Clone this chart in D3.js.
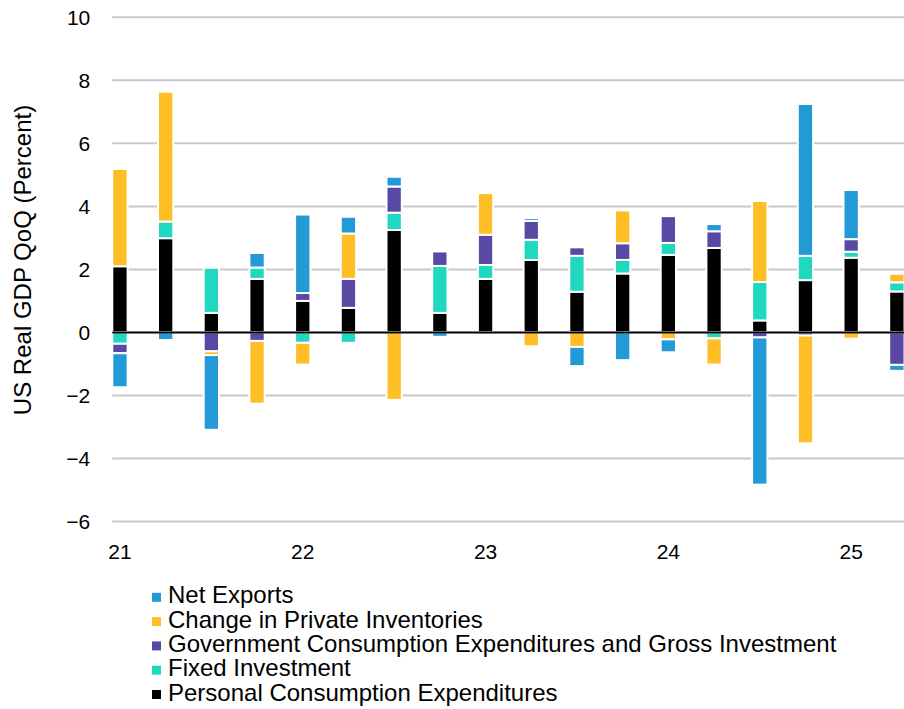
<!DOCTYPE html>
<html>
<head>
<meta charset="utf-8">
<script src="https://cdn.jsdelivr.net/npm/d3@7"></script>
<style>
  html, body { margin: 0; padding: 0; background: #ffffff; }
  svg { display: block; }
  text { font-family: "Liberation Sans", Arial, sans-serif; fill: #000; }
</style>
</head>
<body>
<div id="chart"></div>
<script>
// ---- data ----
const quarters = ["2021Q1","2021Q2","2021Q3","2021Q4","2022Q1","2022Q2","2022Q3","2022Q4",
                  "2023Q1","2023Q2","2023Q3","2023Q4","2024Q1","2024Q2","2024Q3","2024Q4",
                  "2025Q1","2025Q2"];
const personalConsumption = [2.10, 2.99, 0.62, 1.70, 1.00, 0.78, 3.25, 0.62, 1.70, 2.30, 1.29, 1.87, 2.46, 2.68, 0.38, 1.66, 2.37, 1.30];
const fixedInvestment     = [-0.36, 0.53, 1.43, 0.36, -0.33, -0.33, 0.55, 1.49, 0.44, 0.64, 1.14, 0.43, 0.38, -0.19, 1.22, 0.77, 0.19, 0.29];
const government          = [-0.30, 0.00, -0.60, -0.27, 0.25, 0.92, 0.83, 0.46, 0.96, 0.60, 0.27, 0.53, 0.85, 0.53, -0.16, -0.10, 0.40, -1.03];
const inventories         = [3.09, 4.12, -0.12, -1.99, -0.69, 1.44, -2.14, 0.00, 1.32, -0.44, -0.46, 1.04, -0.22, -0.83, 2.57, -3.42, -0.20, 0.27];
const netExports          = [-1.08, -0.24, -2.37, 0.46, 2.49, 0.53, 0.31, -0.14, -0.07, 0.09, -0.61, -0.88, -0.41, 0.23, -4.67, 4.82, 1.56, -0.19];

const seriesNames  = ["Net Exports", "Change in Private Inventories",
                      "Government Consumption Expenditures and Gross Investment",
                      "Fixed Investment", "Personal Consumption Expenditures"];
const seriesColors = ["#219ad6", "#ffbd26", "#5949a5", "#20d8c0", "#000000"];

const yTicks      = [10, 8, 6, 4, 2, 0, -2, -4, -6];
const yTickLabels = ["10", "8", "6", "4", "2", "0", "\u22122", "\u22124", "\u22126"];
const xTickQuarters = ["2021Q1", "2022Q1", "2023Q1", "2024Q1", "2025Q1"];
const xTickLabels   = ["21", "22", "23", "24", "25"];
const yTitle = "US Real GDP QoQ (Percent)";

// ---- build table ----
const keys = ["pce", "fi", "gov", "inv", "nx"]; // stacking order from zero outward
const keyIndex = { nx: 0, inv: 1, gov: 2, fi: 3, pce: 4 }; // index into names/colors
const table = quarters.map((q, i) => ({
  q: q,
  pce: personalConsumption[i],
  fi: fixedInvestment[i],
  gov: government[i],
  inv: inventories[i],
  nx: netExports[i]
}));

// ---- layout ----
const W = 904, H = 709;
const svg = d3.select("#chart").append("svg").attr("width", W).attr("height", H);

const plotLeft = 112.3, plotRight = 904;
const step = 45.7, pIn = 0.665;
const x = d3.scaleBand()
  .domain(quarters)
  .range([plotLeft, plotLeft + step * (quarters.length - pIn)])
  .paddingInner(pIn)
  .paddingOuter(0);

const y = d3.scaleLinear().domain([-6, 10]).range([521.5, 17.3]);

// gridlines
svg.append("g").selectAll("line")
  .data(yTicks.filter(v => v !== 0))
  .join("line")
  .attr("x1", plotLeft).attr("x2", plotRight)
  .attr("y1", d => y(d)).attr("y2", d => y(d))
  .attr("stroke", "#c8c8c8").attr("stroke-width", 2);

// y axis labels
const yAxis = d3.axisLeft(y)
  .tickValues(yTicks)
  .tickFormat((d) => yTickLabels[yTicks.indexOf(d)])
  .tickSize(0)
  .tickPadding(22);
const gy = svg.append("g").attr("transform", `translate(${plotLeft},0)`).call(yAxis);
gy.select(".domain").remove();
gy.selectAll("text").style("font-size", "21px").style("font-family", '"Liberation Sans", Arial, sans-serif').attr("fill", "#000");

// stacked bars
const stack = d3.stack().keys(keys).offset(d3.stackOffsetDiverging);
const stacked = stack(table);

svg.append("g").selectAll("g")
  .data(stacked)
  .join("g")
  .attr("fill", d => seriesColors[keyIndex[d.key]])
  .selectAll("rect")
  .data(d => d.filter(s => Math.abs(s[1] - s[0]) > 1e-9))
  .join("rect")
  .attr("x", d => x(d.data.q))
  .attr("width", x.bandwidth())
  .attr("y", d => y(Math.max(d[0], d[1])))
  .attr("height", d => Math.abs(y(d[0]) - y(d[1])))
  .attr("stroke", "#ffffff")
  .attr("stroke-width", 2);

// zero line
svg.append("line")
  .attr("x1", plotLeft).attr("x2", plotRight)
  .attr("y1", y(0)).attr("y2", y(0))
  .attr("stroke", "#000").attr("stroke-width", 2);

// x axis labels
const xAxis = d3.axisBottom(x)
  .tickValues(xTickQuarters)
  .tickFormat(d => xTickLabels[xTickQuarters.indexOf(d)])
  .tickSize(0)
  .tickPadding(0);
const gx = svg.append("g").attr("transform", `translate(0,${y(-6)})`).call(xAxis);
gx.select(".domain").remove();
gx.selectAll("text")
  .attr("dy", null)
  .attr("y", 37.5)
  .style("font-size", "21px")
  .style("font-family", '"Liberation Sans", Arial, sans-serif')
  .attr("fill", "#000");

// y title
svg.append("text")
  .attr("transform", "translate(30.5,260) rotate(-90)")
  .attr("text-anchor", "middle")
  .style("font-size", "24px")
  .text(yTitle);

// legend
const legend = svg.append("g");
seriesNames.forEach((name, i) => {
  const by = 603.3 + i * 24.3;
  legend.append("rect")
    .attr("x", 152).attr("y", by - 10.5)
    .attr("width", 9).attr("height", 9)
    .attr("fill", seriesColors[i]);
  legend.append("text")
    .attr("x", 168).attr("y", by)
    .style("font-size", "24px")
    .text(name);
});
</script>
</body>
</html>
